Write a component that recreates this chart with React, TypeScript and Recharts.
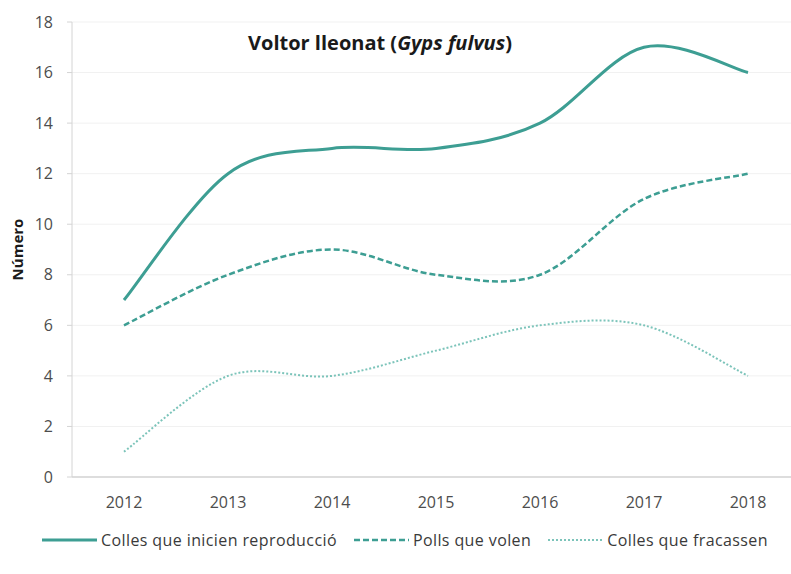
import { LineChart, Line, XAxis, YAxis, CartesianGrid, Legend } from 'recharts'

const anys = ['2012', '2013', '2014', '2015', '2016', '2017', '2018']
const collesInicien = [7, 12, 13, 13, 14, 17, 16]
const pollsVolen = [6, 8, 9, 8, 8, 11, 12]
const collesFracassen = [1, 4, 4, 5, 6, 6, 4]
const yTicks = [0, 2, 4, 6, 8, 10, 12, 14, 16, 18]
const noms = ['Colles que inicien reproducció', 'Polls que volen', 'Colles que fracassen']

const FONT = '"Open Sans", "Liberation Sans", sans-serif'
const TEAL = '#3d9e93'
const TEAL_LIGHT = '#7cc4ba'

const data = anys.map((any, i) => ({
  any,
  inicien: collesInicien[i],
  volen: pollsVolen[i],
  fracassen: collesFracassen[i],
}))

// Excel-style smoothed line (Catmull-Rom converted to cubic beziers)
function excelCurve(context: any) {
  let pts: [number, number][] = []
  return {
    areaStart() {},
    areaEnd() {},
    lineStart() {
      pts = []
    },
    lineEnd() {
      if (!pts.length) return
      context.moveTo(pts[0][0], pts[0][1])
      for (let i = 0; i < pts.length - 1; i++) {
        const p0 = pts[Math.max(0, i - 1)]
        const p1 = pts[i]
        const p2 = pts[i + 1]
        const p3 = pts[Math.min(pts.length - 1, i + 2)]
        context.bezierCurveTo(
          p1[0] + (p2[0] - p0[0]) / 6,
          p1[1] + (p2[1] - p0[1]) / 6,
          p2[0] - (p3[0] - p1[0]) / 6,
          p2[1] - (p3[1] - p1[1]) / 6,
          p2[0],
          p2[1]
        )
      }
    },
    point(x: number, y: number) {
      pts.push([+x, +y])
    },
  }
}

function LegendContent({ payload }: { payload?: any[] }) {
  const items = [...(payload ?? [])].sort((a, b) => noms.indexOf(a.value) - noms.indexOf(b.value))
  return (
    <div style={{ display: 'flex', alignItems: 'center', height: 30, paddingLeft: 42, fontFamily: FONT }}>
      {items.map((entry: any) => (
        <div key={entry.value} style={{ display: 'flex', alignItems: 'center', marginRight: 17 }}>
          <svg width={55} height={10}>
            <line
              x1={0}
              y1={5}
              x2={55}
              y2={5}
              stroke={entry.color}
              strokeWidth={entry.payload?.strokeWidth ?? 2}
              strokeDasharray={entry.payload?.strokeDasharray}
            />
          </svg>
          <span style={{ marginLeft: 4, fontSize: 16, letterSpacing: 0.4, color: '#3a3a3a' }}>{entry.value}</span>
        </div>
      ))}
    </div>
  )
}

export default function App() {
  return (
    <div style={{ position: 'absolute', left: 0, top: 0, width: 791, height: 574, background: '#fff' }}>
      <div
        style={{
          position: 'absolute',
          left: 0,
          top: 31,
          width: 760,
          textAlign: 'center',
          fontFamily: FONT,
          fontWeight: 700,
          fontSize: 20,
          lineHeight: '24px',
          color: '#1a1a1a',
          zIndex: 2,
        }}
      >
        Voltor lleonat (<i>Gyps fulvus</i>)
      </div>
      <LineChart width={791} height={574} data={data} margin={{ top: 22, right: 0, left: 0, bottom: 27 }}>
        <CartesianGrid vertical={false} stroke="#f1f1f1" />
        <XAxis
          dataKey="any"
          padding={{ left: 52, right: 43 }}
          tickLine={false}
          tickSize={6}
          tickMargin={14}
          height={40}
          axisLine={{ stroke: '#d4d4d4', strokeWidth: 1.5 }}
          tick={{ fontSize: 16, fill: '#4d4d4d', fontFamily: FONT }}
        />
        <YAxis
          domain={[0, 18]}
          ticks={yTicks}
          width={72}
          tickSize={5}
          tickMargin={14}
          axisLine={{ stroke: '#d4d4d4' }}
          tickLine={{ stroke: '#d4d4d4' }}
          tick={{ fontSize: 16, fill: '#4d4d4d', fontFamily: FONT }}
          label={{
            value: 'Número',
            angle: -90,
            position: 'insideLeft',
            offset: 18,
            style: { textAnchor: 'middle', fontSize: 15, fontWeight: 700, fill: '#1a1a1a', fontFamily: FONT },
          }}
        />
        <Legend
          content={<LegendContent />}
          verticalAlign="bottom"
          wrapperStyle={{ left: 0, bottom: 19, width: 791 }}
        />
        <Line
          name={noms[0]}
          dataKey="inicien"
          type={excelCurve as any}
          stroke={TEAL}
          strokeWidth={3}
          dot={false}
          isAnimationActive={false}
        />
        <Line
          name={noms[1]}
          dataKey="volen"
          type={excelCurve as any}
          stroke={TEAL}
          strokeWidth={2.5}
          strokeDasharray="6 3"
          dot={false}
          isAnimationActive={false}
        />
        <Line
          name={noms[2]}
          dataKey="fracassen"
          type={excelCurve as any}
          stroke={TEAL_LIGHT}
          strokeWidth={2}
          strokeDasharray="2 2"
          dot={false}
          isAnimationActive={false}
        />
      </LineChart>
    </div>
  )
}
